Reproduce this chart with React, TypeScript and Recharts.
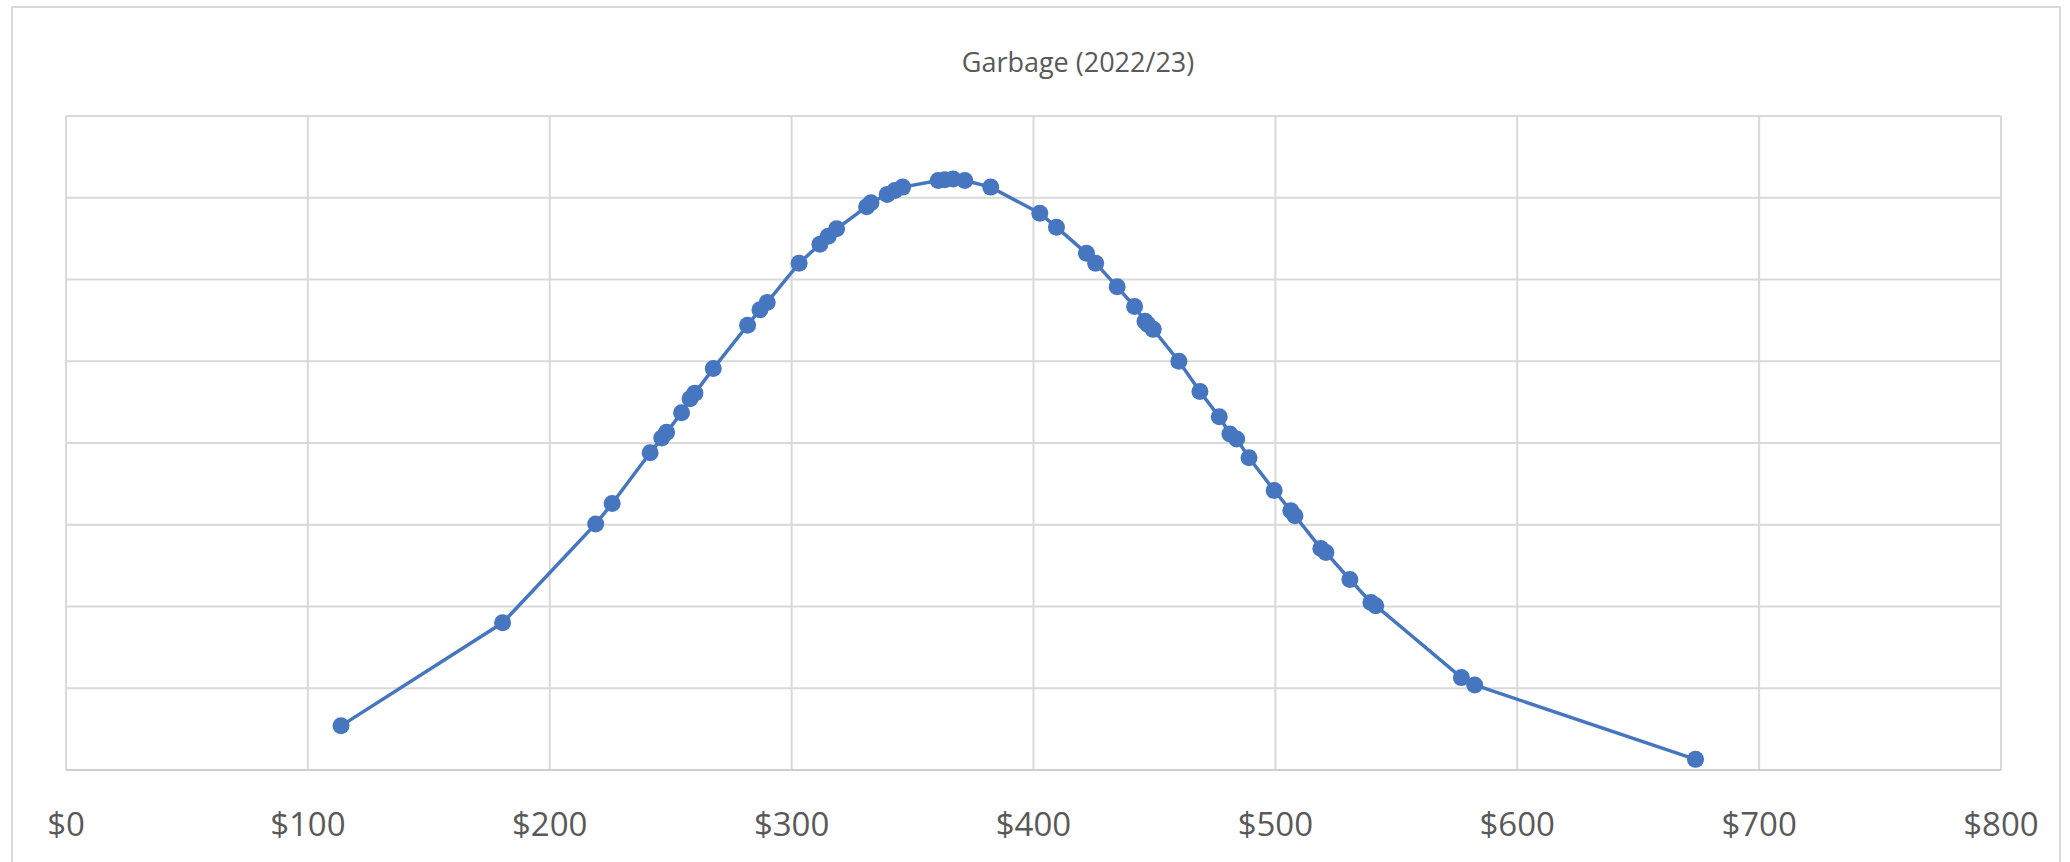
import React from 'react';
import { LineChart, Line, XAxis, YAxis, CartesianGrid } from 'recharts';

const chartTitle = 'Garbage (2022/23)';

const costs = [
  113.7, 180.5, 219.0, 225.8, 241.5, 246.3, 248.3, 254.5, 258.0, 260.0,
  267.6, 281.8, 286.9, 289.9, 303.1, 311.7, 315.1, 318.6, 331.0, 332.8,
  339.5, 342.7, 345.9, 360.6, 363.4, 366.8, 371.6, 382.3, 402.6, 409.5,
  421.9, 425.7, 434.6, 441.8, 446.1, 447.3, 449.5, 460.1, 468.8, 476.8,
  481.2, 484.0, 489.1, 499.5, 506.4, 508.1, 518.8, 520.9, 530.8, 539.5,
  541.5, 576.9, 582.4, 673.7,
];

const densities = [
  0.00027, 0.0009, 0.001505, 0.00163, 0.00194, 0.00203, 0.002065, 0.002185, 0.00227, 0.002305,
  0.002455, 0.00272, 0.002815, 0.00286, 0.0031, 0.003215, 0.003265, 0.00331, 0.003445, 0.00347,
  0.00352, 0.003545, 0.003565, 0.003605, 0.00361, 0.003615, 0.003605, 0.003565, 0.003405, 0.00332,
  0.00316, 0.0031, 0.002955, 0.002835, 0.002745, 0.002725, 0.002695, 0.0025, 0.002315, 0.00216,
  0.002055, 0.002025, 0.00191, 0.00171, 0.001585, 0.001555, 0.001355, 0.00133, 0.001165, 0.001025,
  0.001005, 0.000565, 0.00052, 0.000065,
];

const xTicks = [0, 100, 200, 300, 400, 500, 600, 700, 800];
const yTicks = [0, 0.0005, 0.001, 0.0015, 0.002, 0.0025, 0.003, 0.0035, 0.004];

const data = costs.map((c, i) => ({ cost: c, density: densities[i] }));

const FONT = '"Open Sans", "Noto Sans", sans-serif';
const BLUE = '#4676C0';

export default function App() {
  return (
    <div style={{ position: 'absolute', left: 0, top: 0, width: 2070, height: 862, background: '#ffffff', overflow: 'hidden' }}>
      <div
        style={{
          position: 'absolute',
          left: 11,
          top: 6,
          width: 2050,
          height: 880,
          border: '2px solid #d9d9d9',
          boxSizing: 'border-box',
        }}
      />
      <div
        style={{
          position: 'absolute',
          left: 578,
          width: 1000,
          top: 46,
          lineHeight: '32px',
          textAlign: 'center',
          fontFamily: FONT,
          fontSize: 27,
          color: '#595959',
        }}
      >
        {chartTitle}
      </div>
      <div style={{ position: 'absolute', left: 0, top: 0 }}>
        <LineChart width={2070} height={862} data={data} margin={{ top: 116, right: 69, bottom: 32, left: 66 }}>
          <CartesianGrid stroke="#d9d9d9" strokeWidth={2} />
          <XAxis
            type="number"
            dataKey="cost"
            domain={[0, 800]}
            ticks={xTicks}
            interval={0}
            tickFormatter={(v: number) => `$${v}`}
            tickLine={false}
            tickSize={0}
            tickMargin={43}
            height={60}
            axisLine={{ stroke: '#cfcfcf', strokeWidth: 2 }}
            tick={{ fill: '#595959', fontSize: 33, fontFamily: FONT }}
          />
          <YAxis
            type="number"
            domain={[0, 0.004]}
            ticks={yTicks}
            interval={0}
            width={0}
            tickFormatter={() => ''}
            axisLine={false}
            tickLine={false}
          />
          <Line
            type="linear"
            dataKey="density"
            stroke={BLUE}
            strokeWidth={3.5}
            dot={{ r: 8.5, fill: BLUE, stroke: BLUE, strokeWidth: 0 }}
            activeDot={false}
            isAnimationActive={false}
          />
        </LineChart>
      </div>
    </div>
  );
}
